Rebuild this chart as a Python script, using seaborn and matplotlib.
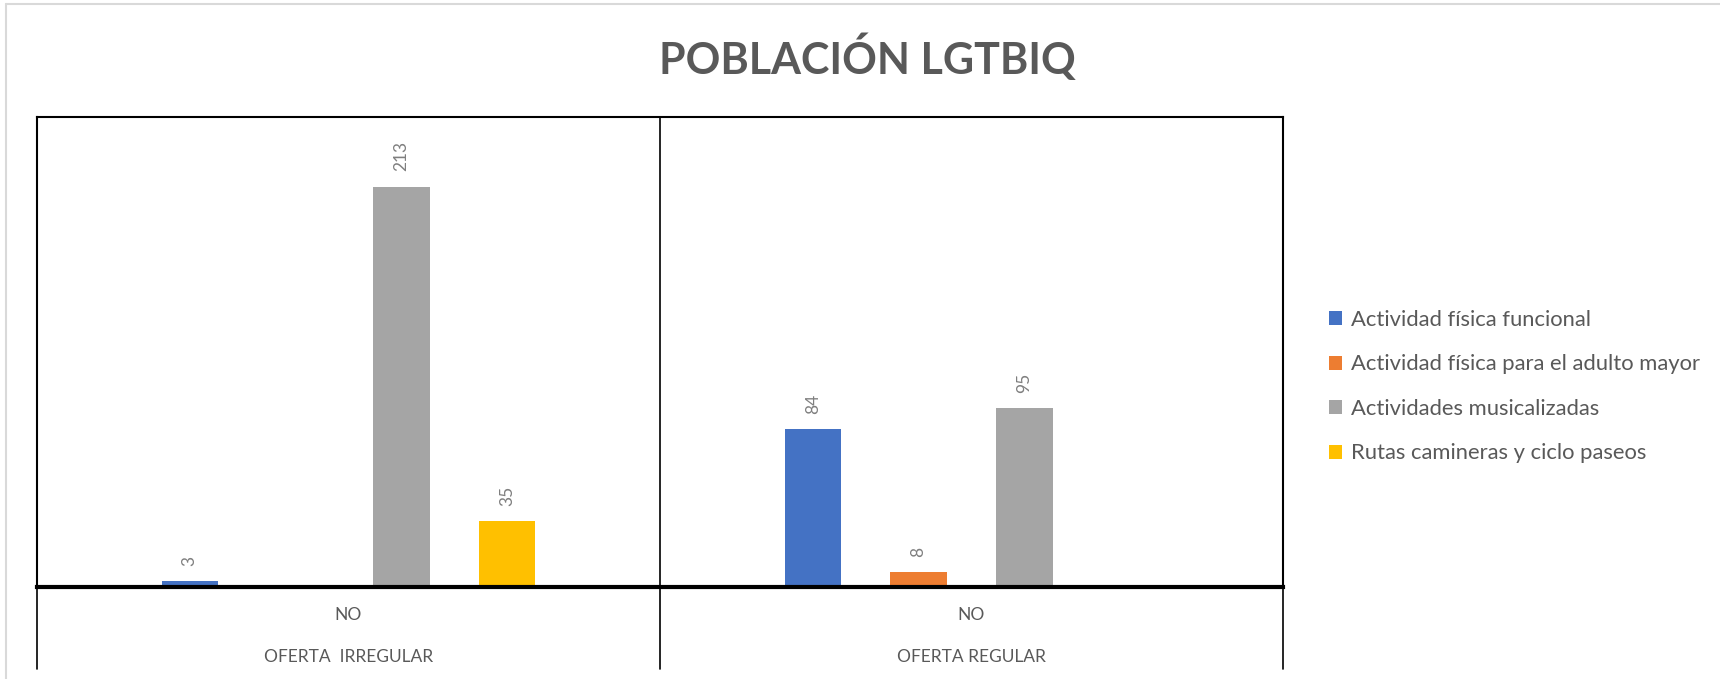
import matplotlib
matplotlib.use("Agg")
import matplotlib.pyplot as plt
from matplotlib.patches import Patch
from matplotlib.lines import Line2D
import seaborn as sns
import pandas as pd

# chart data
ofertas = ["OFERTA  IRREGULAR", "OFERTA REGULAR"]
sub_label = ["NO", "NO"]
actividades = ["Actividad física funcional",
               "Actividad física para el adulto mayor",
               "Actividades musicalizadas",
               "Rutas camineras y ciclo paseos"]
valores_irregular = [3, None, 213, 35]
valores_regular = [84, 8, 95, None]
colores = ["#4472C4", "#ED7D31", "#A5A5A5", "#FFC000"]
titulo = "POBLACIÓN LGTBIQ"

rows = []
for oferta, vals in zip(ofertas, [valores_irregular, valores_regular]):
    for act, v in zip(actividades, vals):
        rows.append({"oferta": oferta, "actividad": act, "valor": v})
df = pd.DataFrame(rows).dropna()

sns.set_style("white")
plt.rcParams["font.family"] = ["Lato", "DejaVu Sans"]

W, H = 1720, 679
fig = plt.figure(figsize=(W / 100, H / 100), dpi=100)
left, right, top, base = 37, 1283, 117, 587
ax = fig.add_axes([left / W, 1 - base / H, (right - left) / W, (base - top) / H])

sns.barplot(data=df, x="oferta", y="valor", hue="actividad", order=ofertas,
            hue_order=actividades, palette=colores, saturation=1, width=0.68, gap=0.47,
            linewidth=0, errorbar=None, legend=False, ax=ax)

for cont in ax.containers:
    ax.bar_label(cont, fmt="%d", rotation=90, padding=11, color="#7f7f7f", fontsize=12.5)

ax.set_xlim(-0.5, 1.5)
ax.set_ylim(0, 250)
ax.set_xlabel("")
ax.set_ylabel("")
ax.set_xticks([])
ax.set_yticks([])
for side in ["top", "left", "right"]:
    ax.spines[side].set_color("black")
    ax.spines[side].set_linewidth(1.5)
ax.spines["bottom"].set_color("black")
ax.spines["bottom"].set_linewidth(3)
ax.axvline(0.5, color="black", linewidth=1.2)

# two level category labels
trans = ax.get_xaxis_transform()
h_ax = base - top
for i, (sub, of) in enumerate(zip(sub_label, ofertas)):
    ax.text(i, -(615 - base) / h_ax, sub, transform=trans, ha="center", va="center",
            color="#595959", fontsize=12.5, clip_on=False)
    ax.text(i, -(657 - base) / h_ax, of, transform=trans, ha="center", va="center",
            color="#595959", fontsize=12.5, clip_on=False)
for xv in [-0.5, 0.5, 1.5]:
    ax.add_line(Line2D([xv, xv], [0, -(669 - base) / h_ax], transform=trans,
                       color="black", linewidth=1.2, clip_on=False))

fig.text(867 / W, 1 - 57 / H, titulo, ha="center", va="center", fontsize=31,
         fontweight="bold", color="#595959")

handles = [Patch(facecolor=c, edgecolor="none") for c in colores]
fig.legend(handles, actividades, loc="upper left", bbox_to_anchor=(1309 / W, 1 - 290 / H),
           frameon=False, fontsize=15.8, labelcolor="#595959", handlelength=0.6,
           handleheight=0.6, handletextpad=0.4, labelspacing=1.12)

# light chart border
fig.add_artist(Line2D([6 / W, 1], [1 - 4 / H, 1 - 4 / H], color="#d9d9d9", linewidth=1.5))
fig.add_artist(Line2D([6 / W, 6 / W], [0, 1 - 4 / H], color="#d9d9d9", linewidth=1.5))

fig.savefig("out.png", dpi=100)
